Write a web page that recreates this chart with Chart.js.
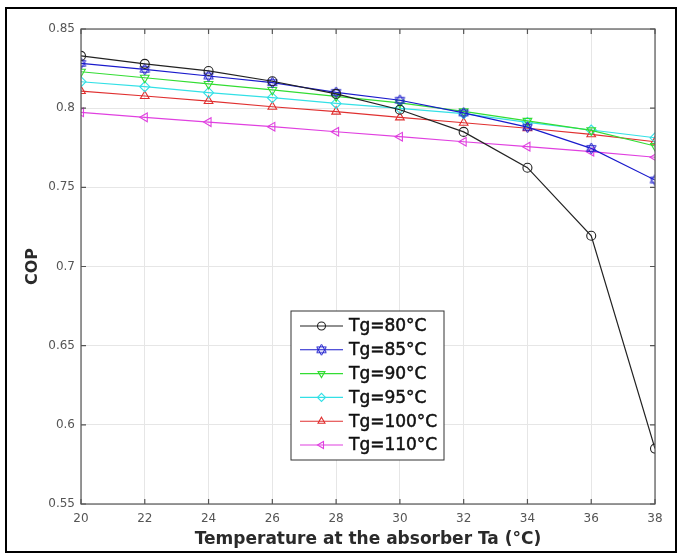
<!doctype html>
<html>

<head>
    <meta charset="UTF-8">
    <title>COP vs Ta</title>
    <script src="https://cdn.jsdelivr.net/npm/chart.js"></script>
    <style>
        body {
            margin: 0;
            background-color: #fff;
        }

        .fundo {
            position: relative;
            width: 681px;
            height: 557px;
        }

        .moldura {
            position: absolute;
            left: 5px;
            top: 7px;
            width: 672px;
            height: 546px;
            box-sizing: border-box;
            border: 2px solid #000;
            pointer-events: none;
        }
    </style>
</head>

<body>
    <div class="fundo">
        <canvas id="grafico" width="681" height="557"></canvas>
        <div class="moldura"></div>
    </div>

    <script>
        // temperature at the absorber (°C)
        var ta = [20, 22, 24, 26, 28, 30, 32, 34, 36, 38];

        // COP for each generator temperature
        var tg80 = [0.833, 0.828, 0.8235, 0.817, 0.809, 0.799, 0.785, 0.7624, 0.7194, 0.585];
        var tg85 = [0.8283, 0.8245, 0.8203, 0.8161, 0.810, 0.805, 0.797, 0.788, 0.7746, 0.7546];
        var tg90 = [0.823, 0.8192, 0.8153, 0.8115, 0.8075, 0.8034, 0.798, 0.792, 0.786, 0.7761];
        var tg95 = [0.8167, 0.8136, 0.8098, 0.8066, 0.803, 0.7999, 0.7965, 0.791, 0.7862, 0.7813];
        var tg100 = [0.8108, 0.8077, 0.8045, 0.8009, 0.7978, 0.7942, 0.7908, 0.7873, 0.7835, 0.7788];
        var tg110 = [0.7974, 0.7942, 0.7912, 0.7883, 0.7851, 0.782, 0.7788, 0.7757, 0.7725, 0.769];

        var rotulos = ['Tg=80°C', 'Tg=85°C', 'Tg=90°C', 'Tg=95°C', 'Tg=100°C', 'Tg=110°C'];

        var fonte = 'DejaVu Sans';

        // six pointed star marker (matlab 'h')
        function estrela(cor) {
            var c = document.createElement('canvas');
            c.width = 13;
            c.height = 13;
            var g = c.getContext('2d');
            g.strokeStyle = cor;
            g.lineWidth = 1;
            var r = 5.5;
            [-90, 90].forEach(function (a0) {
                g.beginPath();
                for (var i = 0; i < 3; i++) {
                    var a = (a0 + i * 120) * Math.PI / 180;
                    var px = 6.5 + r * Math.cos(a), py = 6.5 + r * Math.sin(a);
                    if (i == 0) g.moveTo(px, py); else g.lineTo(px, py);
                }
                g.closePath();
                g.stroke();
            });
            return c;
        }

        function serie(valores, rotulo, cor, estilo, rot, raio) {
            return {
                label: rotulo,
                data: ta.map(function (t, i) { return { x: t, y: valores[i] }; }),
                borderColor: cor,
                backgroundColor: 'transparent',
                borderWidth: 1.2,
                pointStyle: estilo,
                rotation: rot,
                pointRadius: raio,
                pointBorderWidth: 1.1,
                pointBackgroundColor: 'transparent',
                pointBorderColor: cor,
                tension: 0
            };
        }

        var conjuntos = [
            serie(tg80, rotulos[0], '#222222', 'circle', 0, 4.5),
            serie(tg85, rotulos[1], '#1a1acc', estrela('#1a1acc'), 0, 5),
            serie(tg90, rotulos[2], '#33dd33', 'triangle', 180, 5),
            serie(tg95, rotulos[3], '#33e0e6', 'rectRot', 0, 5),
            serie(tg100, rotulos[4], '#e03030', 'triangle', 0, 5),
            serie(tg110, rotulos[5], '#e040e0', 'triangle', 270, 5)
        ];

        // box around the axes + ticks pointing inside
        var caixa = {
            id: 'caixa',
            afterDraw: function (chart) {
                var ctx = chart.ctx;
                var a = chart.chartArea;
                var sx = chart.scales.x, sy = chart.scales.y;
                ctx.save();
                ctx.strokeStyle = '#555';
                ctx.lineWidth = 1.2;
                ctx.strokeRect(a.left, a.top, a.right - a.left, a.bottom - a.top);
                ctx.beginPath();
                sx.ticks.forEach(function (t) {
                    var px = sx.getPixelForValue(t.value);
                    ctx.moveTo(px, a.bottom); ctx.lineTo(px, a.bottom - 5);
                    ctx.moveTo(px, a.top); ctx.lineTo(px, a.top + 5);
                });
                sy.ticks.forEach(function (t) {
                    var py = sy.getPixelForValue(t.value);
                    ctx.moveTo(a.left, py); ctx.lineTo(a.left + 5, py);
                    ctx.moveTo(a.right, py); ctx.lineTo(a.right - 5, py);
                });
                ctx.stroke();
                ctx.restore();
            }
        };

        // legend inside the plot
        var legenda = {
            id: 'legenda',
            afterDraw: function (chart) {
                var ctx = chart.ctx;
                var x0 = 291, y0 = 311, w = 153, h = 149;
                ctx.save();
                ctx.fillStyle = '#fff';
                ctx.fillRect(x0, y0, w, h);
                ctx.strokeStyle = '#333';
                ctx.lineWidth = 1;
                ctx.strokeRect(x0, y0, w, h);
                ctx.font = '17px "' + fonte + '"';
                ctx.textBaseline = 'middle';
                chart.data.datasets.forEach(function (ds, i) {
                    var y = y0 + 15 + i * 23.8;
                    ctx.strokeStyle = ds.borderColor;
                    ctx.lineWidth = 1.1;
                    ctx.beginPath();
                    ctx.moveTo(300, y);
                    ctx.lineTo(343, y);
                    ctx.stroke();
                    ctx.fillStyle = 'rgba(0,0,0,0)';
                    Chart.helpers.drawPoint(ctx, {
                        pointStyle: ds.pointStyle,
                        rotation: ds.rotation,
                        radius: 4,
                        borderWidth: 1.1
                    }, 321.5, y);
                    ctx.fillStyle = '#111';
                    ctx.strokeStyle = '#111';
                    ctx.lineWidth = 0.5;
                    ctx.fillText(ds.label, 349, y + 1);
                    ctx.strokeText(ds.label, 349, y + 1);
                });
                ctx.restore();
            }
        };

        var grafico = new Chart(document.getElementById('grafico').getContext('2d'), {
            type: 'line',
            data: { datasets: conjuntos },
            options: {
                responsive: false,
                animation: false,
                layout: { padding: { left: 0, top: 29, right: 26, bottom: 0 } },
                plugins: {
                    legend: { display: false },
                    tooltip: { enabled: false }
                },
                scales: {
                    x: {
                        type: 'linear',
                        min: 20,
                        max: 38,
                        afterFit: function (s) { s.height = 53; },
                        ticks: {
                            stepSize: 2,
                            padding: 8,
                            color: '#555',
                            font: { family: fonte, size: 12 }
                        },
                        grid: { color: '#e6e6e6', drawTicks: false },
                        border: { display: false },
                        title: {
                            display: true,
                            text: 'Temperature at the absorber Ta (°C)',
                            color: '#2a2a2a',
                            font: { family: fonte, size: 17, weight: 'bold' },
                            padding: { top: 0, bottom: 7 }
                        }
                    },
                    y: {
                        min: 0.55,
                        max: 0.85,
                        afterFit: function (s) { s.width = 81; },
                        ticks: {
                            stepSize: 0.05,
                            padding: 6,
                            color: '#555',
                            font: { family: fonte, size: 12 },
                            callback: function (v) { return String(+v.toFixed(2)); }
                        },
                        grid: { color: '#e6e6e6', drawTicks: false },
                        border: { display: false },
                        title: {
                            display: true,
                            text: 'COP',
                            color: '#2a2a2a',
                            font: { family: fonte, size: 16, weight: 'bold' },
                            padding: { top: 23, bottom: 0 }
                        }
                    }
                }
            },
            plugins: [caixa, legenda]
        });
    </script>
</body>

</html>
